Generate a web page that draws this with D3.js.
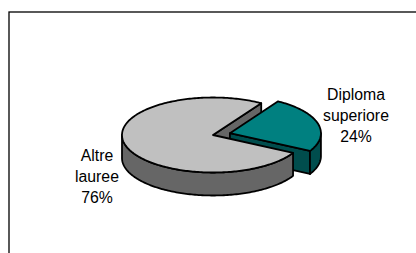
<!DOCTYPE html>
<html>
<head>
<meta charset="utf-8">
<script src="https://cdn.jsdelivr.net/npm/d3@7"></script>
<style>
html,body{margin:0;padding:0;background:#fff;}
svg{display:block;}
</style>
</head>
<body>
<script>
// ---- data ----
const categories = ["Diploma superiore", "Altre lauree"];
const values = [24, 76];
const percentLabels = ["24%", "76%"];
const labelLines = [["Diploma", "superiore"], ["Altre", "lauree"]];

// ---- layout / style ----
const W = 416, H = 253;
const cx = 213, cy = 135, rx = 91, ry = 37.5, depth = 23;
const startDeg = 32;
const explode = [17.5, 0];
const topColors = ["#008080", "#c0c0c0"];
const sideColors = ["#004d4d", "#666666"];
const labelPos = [[356, 99.5], [97, 160.5]];
const lineH = 21.2;

const svg = d3.select("body").append("svg").attr("width", W).attr("height", H);

// frame
svg.append("rect").attr("x", 9).attr("y", 12).attr("width", 420).attr("height", 260)
  .attr("fill", "none").attr("stroke", "#000").attr("stroke-width", 1.3);

const pie = d3.pie().sort(null).value(d => d)
  .startAngle(startDeg * Math.PI / 180)
  .endAngle(startDeg * Math.PI / 180 + 2 * Math.PI);
const arcs = pie(values);

// per-slice center with explosion
arcs.forEach((a, i) => {
  const mid = (a.startAngle + a.endAngle) / 2;
  a.cx = cx + explode[i] * Math.sin(mid);
  a.cy = cy - explode[i] * Math.cos(mid) * ry / rx;
});

const pt = (a, th, dz = 0) => [a.cx + rx * Math.sin(th), a.cy - ry * Math.cos(th) + dz];
const line = d3.line();

function arcPts(a, t0, t1, dz) {
  const n = Math.max(2, Math.ceil(Math.abs(t1 - t0) / 0.02));
  return d3.range(n + 1).map(k => pt(a, t0 + (t1 - t0) * k / n, dz));
}
function topPath(a) {
  return line([[a.cx, a.cy], ...arcPts(a, a.startAngle, a.endAngle, 0)]) + "Z";
}
function wallPath(a) {
  const lo = Math.max(a.startAngle, Math.PI / 2);
  const hi = Math.min(a.endAngle, 3 * Math.PI / 2);
  if (hi <= lo) return null;
  return line([...arcPts(a, lo, hi, 0), ...arcPts(a, hi, lo, depth)]) + "Z";
}
function cutPath(a, th) {
  const p = pt(a, th);
  return line([[a.cx, a.cy], p, [p[0], p[1] + depth], [a.cx, a.cy + depth]]) + "Z";
}

const g = svg.append("g").attr("stroke", "#000").attr("stroke-width", 1.8)
  .attr("stroke-linejoin", "round");

const teal = arcs[0], gray = arcs[1];
// painter's order
g.append("path").attr("d", cutPath(gray, gray.endAngle)).attr("fill", sideColors[1]);
g.append("path").attr("d", cutPath(teal, teal.endAngle)).attr("fill", sideColors[0]);
const tw = wallPath(teal);
if (tw) g.append("path").attr("d", tw).attr("fill", sideColors[0]);
g.append("path").attr("d", topPath(teal)).attr("fill", topColors[0]);
const gw = wallPath(gray);
if (gw) g.append("path").attr("d", gw).attr("fill", sideColors[1]);
g.append("path").attr("d", topPath(gray)).attr("fill", topColors[1]);

// labels
categories.forEach((c, i) => {
  const t = svg.append("text")
    .attr("font-family", "'Liberation Sans', Arial, sans-serif")
    .attr("font-size", 15.8).attr("fill", "#000").attr("text-anchor", "middle");
  const lines = [...labelLines[i], percentLabels[i]];
  lines.forEach((s, k) => {
    t.append("tspan").attr("x", labelPos[i][0]).attr("y", labelPos[i][1] + k * lineH).text(s);
  });
});
</script>
</body>
</html>
